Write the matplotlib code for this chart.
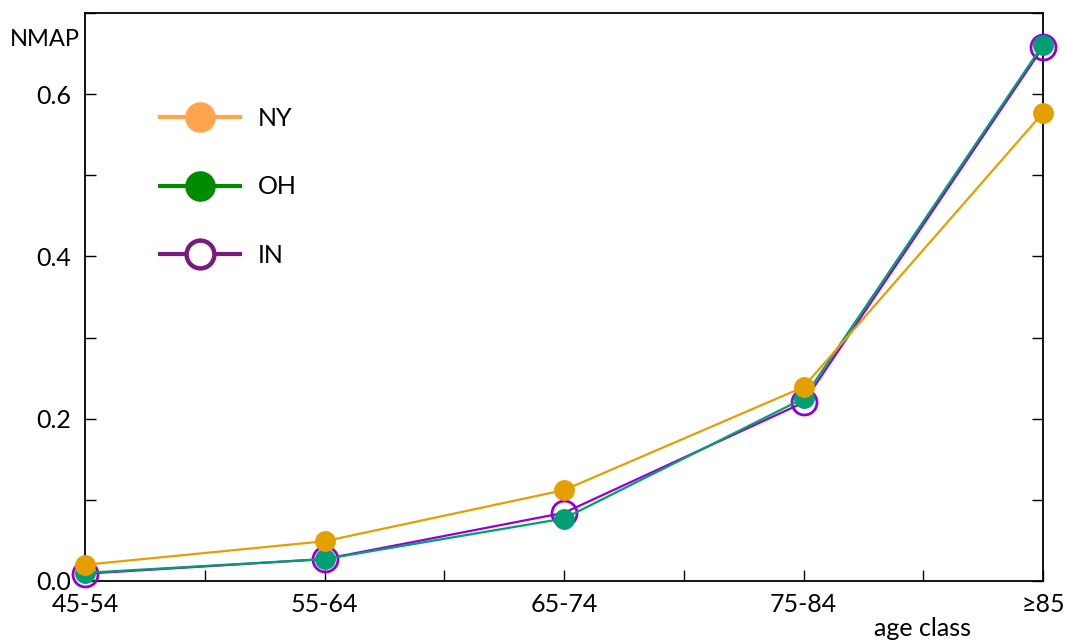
import matplotlib
matplotlib.use("Agg")
import matplotlib.pyplot as plt
from matplotlib.lines import Line2D
from matplotlib.ticker import MultipleLocator, FuncFormatter

plt.rcParams['font.family'] = ['Lato', 'DejaVu Sans']

age_classes = ["45-54", "55-64", "65-74", "75-84", "≥85"]
ny = [0.020, 0.049, 0.112, 0.239, 0.577]
oh = [0.010, 0.027, 0.077, 0.225, 0.661]
in_ = [0.009, 0.027, 0.084, 0.220, 0.658]

FS = 18

fig = plt.figure(figsize=(10.65, 6.42), dpi=100)
ax = fig.add_axes([85 / 1065, 61 / 642, 958 / 1065, 568 / 642])

x = list(range(len(age_classes)))

ax.plot(x, in_, color="#9400D3", lw=1.6, marker="o", ms=18, mfc="none",
        mec="#9400D3", mew=2.0, zorder=3, clip_on=False)
ax.plot(x, oh, color="#009E73", lw=1.6, marker="o", ms=14, mfc="#009E73",
        mec="#009E73", zorder=4, clip_on=False)
ax.plot(x, ny, color="#E69F00", lw=1.6, marker="o", ms=14, mfc="#E69F00",
        mec="#E69F00", zorder=5, clip_on=False)

ax.set_xlim(0, len(age_classes) - 1)
ax.set_ylim(0, 0.7)

ax.set_xticks(x)
ax.set_xticklabels(age_classes)
ax.xaxis.set_minor_locator(MultipleLocator(0.5))
ax.yaxis.set_major_locator(MultipleLocator(0.1))
ax.yaxis.set_major_formatter(FuncFormatter(
    lambda v, p: f"{v:.1f}" if round(v * 10) % 2 == 0 and v < 0.65 else ""))

ax.tick_params(axis="x", which="both", direction="in", length=8, width=1,
               labelsize=FS, pad=9, top=False)
ax.tick_params(axis="y", which="both", direction="in", length=8, width=1,
               labelsize=FS, pad=10, right=True)

for s in ax.spines.values():
    s.set_linewidth(1.3)

fig.text(10 / 1065, 1 - 40 / 642, "NMAP", fontsize=17, va="center", ha="left")
fig.text(922 / 1065, 1 - 628 / 642, "age class", fontsize=FS, va="center", ha="center")

handles = [
    Line2D([], [], color="#FFA54F", lw=3, marker="o", ms=21, mfc="#FFA54F", mec="#FFA54F"),
    Line2D([], [], color="#008B00", lw=3, marker="o", ms=21, mfc="#008B00", mec="#008B00"),
    Line2D([], [], color="#7B1A7E", lw=3, marker="o", ms=20, mfc="white", mec="#7B1A7E", mew=3.2),
]
leg = ax.legend(handles, ["NY", "OH", "IN"], loc="upper left",
                bbox_to_anchor=(65 / 958, 1 - 84 / 568), frameon=False,
                fontsize=FS, handlelength=3.2, handletextpad=0.72,
                labelspacing=1.82, borderaxespad=0)

fig.savefig("out.png", dpi=100)
